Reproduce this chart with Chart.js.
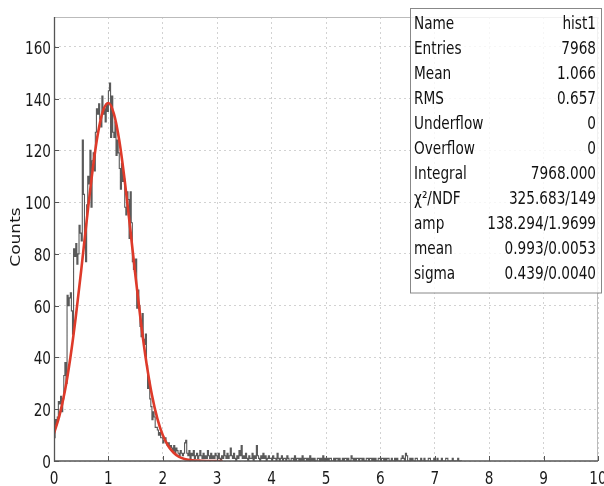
<!DOCTYPE html>
<html>
<head>
<meta charset="utf-8">
<script src="https://cdn.jsdelivr.net/npm/chart.js@4.4.1/dist/chart.umd.min.js"></script>
<style>
  html, body { margin: 0; padding: 0; background: #fff; }
  #wrap { width: 604px; height: 486px; }
</style>
</head>
<body>
<div id="wrap"><canvas id="hist" width="604" height="486"></canvas></div>
<script>
// histogram: bins of 0.02 starting at 0, counts
const binWidth = 0.02;
const counts = [
  11, 9, 16, 14, 17, 23, 22, 25, 19, 24,
  33, 38, 30, 64, 60, 63, 65, 58, 49, 82,
  79, 84, 76, 80, 91, 88, 85, 124, 103, 88,
  77, 99, 110, 107, 120, 98, 116, 119, 112, 127,
  136, 134, 138, 132, 129, 141, 134, 136, 131, 138,
  135, 143, 146, 125, 141, 127, 125, 131, 118, 124,
  119, 113, 105, 115, 108, 109, 98, 95, 104, 101,
  86, 104, 92, 77, 74, 73, 78, 59, 66, 60,
  52, 48, 57, 47, 45, 49, 37, 28, 31, 24,
  21, 16, 19, 17, 13, 13, 12, 10, 11, 9,
  9, 7, 8, 9, 7, 6, 7, 5, 6, 5,
  4, 6, 3, 5, 4, 3, 2, 4, 3, 2,
  3, 7, 8, 3, 2, 4, 1, 3, 2, 4,
  1, 2, 3, 1, 2, 4, 2, 1, 3, 1,
  2, 1, 4, 2, 1, 3, 1, 2, 1, 3,
  2, 1, 3, 1, 0, 2, 1, 4, 2, 1,
  3, 1, 2, 5, 2, 1, 3, 1, 0, 2,
  1, 4, 2, 6, 1, 2, 1, 3, 1, 0,
  2, 1, 1, 3, 0, 2, 1, 6, 2, 1,
  0, 2, 1, 3, 1, 2, 0, 1, 2, 1,
  1, 0, 2, 1, 1, 0, 3, 1, 0, 1,
  2, 0, 1, 1, 0, 2, 1, 0, 0, 1,
  1, 0, 2, 0, 1, 1, 0, 1, 0, 2,
  0, 1, 1, 0, 1, 0, 2, 0, 1, 0,
  1, 0, 0, 1, 1, 0, 1, 0, 2, 0,
  1, 0, 1, 0, 1, 1, 0, 0, 1, 0,
  1, 1, 0, 1, 0, 0, 1, 0, 1, 1,
  0, 1, 0, 0, 2, 1, 0, 1, 0, 1,
  1, 0, 1, 1, 0, 1, 0, 0, 1, 1,
  0, 1, 1, 0, 1, 0, 1, 0, 0, 1,
  1, 0, 1, 1, 0, 1, 0, 1, 1, 0,
  0, 1, 0, 0, 1, 0, 1, 0, 0, 0,
  1, 2, 1, 0, 3, 2, 0, 0, 1, 0,
  1, 0, 0, 1, 1, 0, 0, 0, 1, 0,
  0, 1, 0, 0, 0, 1, 1, 0, 0, 0,
  1, 0, 0, 1, 0, 0, 0, 1, 0, 0,
  0, 1, 1, 0, 0, 0, 0, 1, 0, 0,
  0, 0, 1, 0, 0
];

// gaussian fit curve, sampled every 0.1
const fitX = [0, 0.1, 0.2, 0.3, 0.4, 0.5, 0.6, 0.7, 0.8, 0.9, 1.0, 1.1, 1.2, 1.3, 1.4, 1.5,
  1.6, 1.7, 1.8, 1.9, 2.0, 2.1, 2.2, 2.3, 2.4, 2.5, 2.6, 2.7, 2.8, 2.9, 3.0, 3.1];
const fitY = [10.7, 17.5, 27.0, 39.8, 55.6, 73.6, 92.7, 110.7, 125.6, 135.2, 138.3, 134.2, 123.8, 108.3, 90.0, 71.0,
  53.2, 37.8, 25.5, 16.4, 10.0, 5.8, 3.2, 1.6, 0.8, 0.4, 0.2, 0.1, 0, 0, 0, 0];

const xTickValues = [0, 1, 2, 3, 4, 5, 6, 7, 8, 9, 10];
const yTickValues = [0, 20, 40, 60, 80, 100, 120, 140, 160];
const yTitle = 'Counts';

const statNames = ['Name', 'Entries', 'Mean', 'RMS', 'Underflow', 'Overflow', 'Integral', 'χ²/NDF', 'amp', 'mean', 'sigma'];
const statValues = ['hist1', '7968', '1.066', '0.657', '0', '0', '7968.000', '325.683/149', '138.294/1.9699', '0.993/0.0053', '0.439/0.0040'];

const histPoints = [{ x: 0, y: 0 }];
for (let i = 0; i < counts.length; i++) {
    histPoints.push({ x: i * binWidth, y: counts[i] });
}
histPoints.push({ x: counts.length * binWidth, y: counts[counts.length - 1] });
histPoints.push({ x: counts.length * binWidth, y: 0 });

const fitPoints = fitX.map((v, i) => ({ x: v, y: fitY[i] }));

// the picture is squeezed horizontally, so text gets the same squeeze
const SX = 0.78;
const FONT = '"DejaVu Sans", "Liberation Sans", sans-serif';

function squeezed(ctx, str, x, y, align, size) {
    ctx.save();
    ctx.translate(x, y);
    ctx.scale(SX, 1);
    ctx.font = size + 'px ' + FONT;
    ctx.textAlign = align;
    ctx.textBaseline = 'alphabetic';
    ctx.fillText(str, 0, 0);
    ctx.restore();
}

const rootStyle = {
    id: 'rootStyle',
    afterDatasetsDraw(chart) {
        const { ctx, chartArea: a, scales: { x, y } } = chart;
        ctx.save();

        // frame
        ctx.strokeStyle = '#bbb';
        ctx.lineWidth = 1;
        ctx.beginPath();
        ctx.moveTo(a.left, a.top + 0.5);
        ctx.lineTo(a.right, a.top + 0.5);
        ctx.moveTo(a.right - 0.5, a.top);
        ctx.lineTo(a.right - 0.5, a.bottom);
        ctx.stroke();
        ctx.strokeStyle = '#555';
        ctx.lineWidth = 1.3;
        ctx.beginPath();
        ctx.moveTo(a.left + 0.5, a.top);
        ctx.lineTo(a.left + 0.5, a.bottom);
        ctx.lineTo(a.right, a.bottom);
        ctx.stroke();

        // inner ticks
        ctx.lineWidth = 1;
        ctx.beginPath();
        xTickValues.forEach(v => {
            const px = Math.round(x.getPixelForValue(v)) + 0.5;
            ctx.moveTo(px, a.bottom);
            ctx.lineTo(px, a.bottom - 5);
        });
        yTickValues.forEach(v => {
            const py = Math.round(y.getPixelForValue(v)) + 0.5;
            ctx.moveTo(a.left, py);
            ctx.lineTo(a.left + 5, py);
        });
        ctx.stroke();

        // tick labels
        ctx.fillStyle = '#1a1a1a';
        xTickValues.forEach(v => {
            squeezed(ctx, String(v), x.getPixelForValue(v), 484, 'center', 17.5);
        });
        yTickValues.forEach(v => {
            squeezed(ctx, String(v), a.left - 3, y.getPixelForValue(v) + 7, 'right', 17.5);
        });

        // axis title
        ctx.save();
        ctx.translate(17, 237);
        ctx.scale(SX, 1);
        ctx.rotate(-Math.PI / 2);
        ctx.font = '17px ' + FONT;
        ctx.textAlign = 'center';
        ctx.textBaseline = 'middle';
        ctx.fillText(yTitle, 0, 0);
        ctx.restore();

        // stats box
        ctx.fillStyle = 'rgba(255,255,255,0.8)';
        ctx.fillRect(410.5, 8.5, 191, 284.5);
        ctx.strokeStyle = '#888';
        ctx.lineWidth = 1;
        ctx.strokeRect(410.5, 8.5, 191, 284.5);
        ctx.fillStyle = '#111';
        statNames.forEach((name, i) => {
            const by = 29 + 25 * i;
            squeezed(ctx, name, 414, by, 'left', 17.5);
            squeezed(ctx, statValues[i], 596, by, 'right', 17.5);
        });

        ctx.restore();
    }
};

new Chart(document.getElementById('hist'), {
    type: 'line',
    data: {
        datasets: [
            {
                label: 'fit',
                data: fitPoints,
                borderColor: 'rgb(222, 58, 42)',
                borderWidth: 2.6,
                pointRadius: 0,
                cubicInterpolationMode: 'monotone',
                fill: false,
                order: 0
            },
            {
                label: 'hist1',
                data: histPoints,
                borderColor: '#5a5a5a',
                borderWidth: 1.1,
                pointRadius: 0,
                stepped: 'after',
                fill: false,
                order: 1
            }
        ]
    },
    options: {
        responsive: false,
        animation: false,
        devicePixelRatio: 1,
        layout: { padding: { left: 0, right: 6, top: 17, bottom: 0 } },
        plugins: { legend: { display: false }, tooltip: { enabled: false } },
        scales: {
            x: {
                type: 'linear',
                min: 0,
                max: 10,
                ticks: { stepSize: 1, display: false },
                grid: { color: '#d2d2d2', lineWidth: 1, drawTicks: false },
                border: { display: false, dash: [2, 3] },
                afterFit(scale) {
                    scale.height = 25;
                    scale.paddingLeft = 0;
                    scale.paddingRight = 0;
                }
            },
            y: {
                type: 'linear',
                min: 0,
                max: 171.5,
                ticks: { stepSize: 20, display: false },
                grid: { color: '#d2d2d2', lineWidth: 1, drawTicks: false },
                border: { display: false, dash: [2, 3] },
                afterBuildTicks(scale) {
                    scale.ticks = scale.ticks.filter(t => t.value % 20 === 0);
                },
                afterFit(scale) {
                    scale.width = 54;
                    scale.paddingTop = 0;
                    scale.paddingBottom = 0;
                }
            }
        }
    },
    plugins: [rootStyle]
});
</script>
</body>
</html>
